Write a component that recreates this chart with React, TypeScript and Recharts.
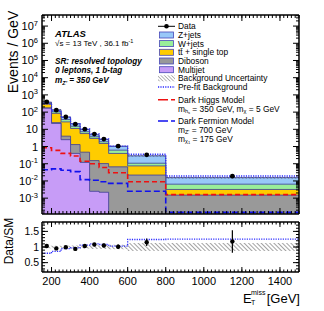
import React from 'react';
import { ComposedChart, Area, Line, Scatter, XAxis, YAxis, ErrorBar } from 'recharts';

const FONT = '"Liberation Sans", Arial, Helvetica, sans-serif';

// bin edges in GeV (last bin 800-1500)
const edges = [150, 200, 250, 300, 350, 400, 450, 500, 600, 800, 1500];

// events / GeV
const dataObs = [390, 130, 52, 20, 10.2, 5.3, 2.7, 1.05, 0.33, 0.019];
const zjets = [50, 30.5, 15.5, 6.2, 2.6, 1.2, 0.67, 0.42, 0.18, 0.009];
const wjets = [34, 21, 10, 3.9, 1.6, 0.75, 0.4, 0.22, 0.032, 0.0033];
const ttbar = [121, 60, 23, 9.9, 5.2, 2.8, 1.4, 0.33, 0.053, 0.0017];
const diboson = [4, 2.5, 1.5, 0.9, 0.35, 0.15, 0.1, 0.066, 0.022, 0.0015];
const multijet = [170, 22, 2.5, 0.4, 0.12, 0.0025, 0.0022, 0, 0, 0];
const bkgUnc = [0.04, 0.04, 0.04, 0.05, 0.05, 0.06, 0.06, 0.07, 0.12, 0.14];
const darkHiggs = [0.85, 0.6, 0.4, 0.28, 0.14, 0.1, 0.06, 0.03, 0.009, 0.0016];
const darkFermion = [0.045, 0.05, 0.042, 0.035, 0.012, 0.011, 0.009, 0.0072, 0.0025, 0.00015];

// ratio panel
const ratioObs = [1.03, 0.955, 0.99, 0.94, 1.03, 1.08, 1.05, 1.01, 1.15, 1.18];
const ratioErr = [0.02, 0.02, 0.03, 0.04, 0.05, 0.05, 0.06, 0.07, 0.12, 0.36];
const prefitRatio = [0.8, 0.86, 0.95, 0.97, 1.06, 1.1, 1.08, 1.03, 1.24, 1.25];
const ratioUnc = [0.04, 0.04, 0.04, 0.05, 0.05, 0.06, 0.06, 0.07, 0.13, 0.13];

// ticks
const xMajor = [200, 400, 600, 800, 1000, 1200, 1400];
const xMinor: number[] = [];
for (let v = 160; v <= 1500; v += 20) xMinor.push(v);
const yDomain = [1.2e-4, 4.4e7];
const yMajor = [1e-3, 1e-2, 1e-1, 1, 10, 100, 1e3, 1e4, 1e5, 1e6, 1e7];
const yMinor: number[] = [];
for (let e = -4; e <= 7; e++) for (let k = 2; k <= 9; k++) {
  const v = k * Math.pow(10, e);
  if (v > yDomain[0] && v < yDomain[1]) yMinor.push(v);
}
const rDomain = [0.2, 1.8];
const rMajor = [0.5, 1, 1.5];
const rMinor: number[] = [];
for (let i = 3; i <= 17; i++) rMinor.push(i / 10);

const nb = edges.length - 1;
const rows = edges.map((x, i) => {
  const b = Math.min(i, nb - 1);
  const m = multijet[b];
  const d = m + diboson[b];
  const t = d + ttbar[b];
  const w = t + wjets[b];
  const z = w + zjets[b];
  return {
    x,
    mj: Math.max(m, 1e-9),
    db: d,
    tt: t,
    wj: w,
    zj: z,
    unc: [z * (1 - bkgUnc[b]), z * (1 + bkgUnc[b])],
    pre: z * prefitRatio[b],
    dh: darkHiggs[b],
    df: darkFermion[b],
  };
});
const points = dataObs.map((v, i) => ({ x: (edges[i] + edges[i + 1]) / 2, v }));

const ratioRows = edges.map((x, i) => {
  const b = Math.min(i, nb - 1);
  return { x, pre: prefitRatio[b], band: [1 - ratioUnc[b], 1 + ratioUnc[b]] };
});
const ratioPoints = ratioObs.map((v, i) => ({ x: (edges[i] + edges[i + 1]) / 2, v, e: ratioErr[i] }));

const COL = {
  z: '#98c8f8',
  w: '#99ee99',
  tt: '#ffcc00',
  db: '#999999',
  mj: '#c79cf7',
  edge: '#3c3c96',
};

const blank = () => '';

// inward ticks on all four sides, ROOT style
const frameX = (id: string, domain: number[], major: number, minor: number) =>
  ([['b', 'bottom', xMajor, major], ['bm', 'bottom', xMinor, minor], ['t', 'top', xMajor, major], ['tm', 'top', xMinor, minor]] as any[]).map(
    ([suf, ori, t, s]) => (
      <XAxis key={id + suf} xAxisId={id + suf} type="number" dataKey="x" domain={domain} allowDataOverflow
        orientation={ori} mirror height={0.01} ticks={t} interval={0} tickSize={s} tickFormatter={blank}
        stroke="#000" />
    ));

const frameY = (id: string, domain: number[], scale: any, major: number[], minor: number[], ms: number, ns: number) =>
  ([['l', 'left', major, ms], ['lm', 'left', minor, ns], ['r', 'right', major, ms], ['rm', 'right', minor, ns]] as any[]).map(
    ([suf, ori, t, s]) => (
      <YAxis key={id + suf} yAxisId={id + suf} type="number" scale={scale} domain={domain} allowDataOverflow
        orientation={ori} mirror width={0.01} ticks={t} interval={0} tickSize={s} tickFormatter={blank}
        stroke="#000" />
    ));

const LogTickLabel = (props: any) => {
  const { x, y, payload } = props;
  const e = Math.round(Math.log10(payload.value));
  return (
    <text x={x - 4} y={y + 4} textAnchor="end" fontSize={11} fontFamily={FONT} fill="#000">
      {e === 0 ? '1' : e === 1 ? '10' : (<>10<tspan dy={-4.5} fontSize={7.5}>{e}</tspan></>)}
    </text>
  );
};

const RatioTickLabel = (props: any) => (
  <text x={props.x - 3} y={props.y + 3.8} textAnchor="end" fontSize={10.5} fontFamily={FONT} fill="#000">
    {props.payload.value}
  </text>
);

const XTickLabel = (props: any) => (
  <text x={props.x} y={props.y + 13} textAnchor="middle" fontSize={11} fontFamily={FONT} fill="#000">
    {props.payload.value}
  </text>
);

const Dot = (r: number) => (p: any) => <circle cx={p.cx} cy={p.cy} r={r} fill="#000" />;

const hatchPattern = (id: string, gap: number, color: string, w = 0.7) => (
  <pattern id={id} width={gap} height={gap} patternUnits="userSpaceOnUse" patternTransform="rotate(-45)">
    <line x1={0} y1={0} x2={0} y2={gap} stroke={color} strokeWidth={w} />
  </pattern>
);

function MainPanel() {
  return (
    <ComposedChart width={324} height={216} data={rows} margin={{ top: 15, right: 25, bottom: 2, left: 42 }}>
      <defs>{hatchPattern('hatchMain', 2.5, '#333')}</defs>
      {frameX('x', [150, 1500], 6, 3)}
      {frameY('y', yDomain, 'log', yMajor, yMinor, 6, 3)}
      <YAxis yAxisId="ylab" type="number" scale="log" domain={yDomain} allowDataOverflow orientation="left" mirror
        width={0.01} ticks={yMajor} interval={0} tickSize={0} tickMargin={0} tickLine={false} axisLine={false}
        tick={<LogTickLabel />} />
      <Area xAxisId="xb" yAxisId="yl" dataKey="zj" type="stepAfter" fill={COL.z} fillOpacity={1} stroke={COL.edge} strokeWidth={0.9} isAnimationActive={false} />
      <Area xAxisId="xb" yAxisId="yl" dataKey="wj" type="stepAfter" fill={COL.w} fillOpacity={1} stroke={COL.edge} strokeWidth={0.8} isAnimationActive={false} />
      <Area xAxisId="xb" yAxisId="yl" dataKey="tt" type="stepAfter" fill={COL.tt} fillOpacity={1} stroke={COL.edge} strokeWidth={0.8} isAnimationActive={false} />
      <Area xAxisId="xb" yAxisId="yl" dataKey="db" type="stepAfter" fill={COL.db} fillOpacity={1} stroke={COL.edge} strokeWidth={0.8} isAnimationActive={false} />
      <Area xAxisId="xb" yAxisId="yl" dataKey="mj" type="stepAfter" fill={COL.mj} fillOpacity={1} stroke={COL.edge} strokeWidth={0.8} isAnimationActive={false} />
      <Area xAxisId="xb" yAxisId="yl" dataKey="unc" type="stepAfter" fill="url(#hatchMain)" fillOpacity={1} stroke="none" isAnimationActive={false} />
      <Line xAxisId="xb" yAxisId="yl" dataKey="dh" type="stepAfter" stroke="#ee1111" strokeWidth={1.6} strokeDasharray="5 3" dot={false} isAnimationActive={false} />
      <Line xAxisId="xb" yAxisId="yl" dataKey="df" type="stepAfter" stroke="#1111ee" strokeWidth={1.6} strokeDasharray="6 3" dot={false} isAnimationActive={false} />
      <Line xAxisId="xb" yAxisId="yl" dataKey="pre" type="stepAfter" stroke="#2b2bff" strokeWidth={1.3} strokeDasharray="1.2 1.2" dot={false} isAnimationActive={false} />
      <Scatter xAxisId="xb" yAxisId="yl" data={points} dataKey="v" shape={Dot(2.4)} isAnimationActive={false} />
    </ComposedChart>
  );
}

function RatioPanel() {
  return (
    <ComposedChart width={324} height={95} data={ratioRows} margin={{ top: 6, right: 25, bottom: 39, left: 42 }}>
      <defs>{hatchPattern('hatchRatio', 3, '#333', 0.9)}</defs>
      {frameX('rx', [150, 1500], 5, 2.5)}
      {frameY('ry', rDomain, 'linear', rMajor, rMinor, 6, 3)}
      <XAxis xAxisId="rxlab" type="number" dataKey="x" domain={[150, 1500]} allowDataOverflow orientation="bottom" mirror
        height={0.01} ticks={xMajor} interval={0} tickSize={0} tickMargin={0} tickLine={false} axisLine={false}
        tick={<XTickLabel />} />
      <YAxis yAxisId="rylab" type="number" domain={rDomain} allowDataOverflow orientation="left" mirror
        width={0.01} ticks={rMajor} interval={0} tickSize={0} tickMargin={0} tickLine={false} axisLine={false}
        tick={<RatioTickLabel />} />
      <Area xAxisId="rxb" yAxisId="ryl" dataKey="band" type="stepAfter" fill="url(#hatchRatio)" fillOpacity={1} stroke="none" isAnimationActive={false} />
      <Line xAxisId="rxb" yAxisId="ryl" dataKey="pre" type="stepAfter" stroke="#2b2bff" strokeWidth={1.3} strokeDasharray="1.2 1.2" dot={false} isAnimationActive={false} />
      <Scatter xAxisId="rxb" yAxisId="ryl" data={ratioPoints} dataKey="v" shape={Dot(2.2)} isAnimationActive={false}>
        <ErrorBar dataKey="e" direction="y" width={0} stroke="#000" strokeWidth={1.2} />
      </Scatter>
    </ComposedChart>
  );
}

const LX = 158;
const LW = 17;
const TX = 178;

function Overlay() {
  const box = (y: number, fill: string) => (
    <rect x={LX + 1.5} y={y - 3} width={LW - 3} height={6} fill={fill} stroke="#4747b8" strokeWidth={0.8} />
  );
  const fs = 8.4;
  return (
    <svg width={324} height={311} style={{ position: 'absolute', left: 0, top: 0, pointerEvents: 'none' }} fontFamily={FONT}>
      <defs>{hatchPattern('hatchLeg', 2.5, '#333')}</defs>
      <text transform="translate(18,52) rotate(-90)" textAnchor="middle" fontSize={14}>Events / GeV</text>
      <text transform="translate(13,241) rotate(-90)" textAnchor="middle" fontSize={12}>Data/SM</text>

      <text x={243} y={303} fontSize={13}>E</text>
      <text x={251} y={295} fontSize={7}>miss</text>
      <text x={251} y={305} fontSize={7}>T</text>
      <text x={300} y={303} fontSize={13} textAnchor="end">[GeV]</text>

      <text x={55} y={36.5} fontSize={9.5} fontWeight="bold" fontStyle="italic">ATLAS</text>
      <text x={55} y={45.5} fontSize={8}>√s = 13 TeV , 36.1 fb<tspan dy={-3} fontSize={5.5}>-1</tspan></text>
      <g fontSize={8.2} fontWeight="bold" fontStyle="italic">
        <text x={55} y={63.5}>SR: resolved topology</text>
        <text x={55} y={72.5}>0 leptons, 1 b-tag</text>
        <text x={55} y={82.5}>m<tspan dy={2} fontSize={5.5}>Z'</tspan><tspan dy={-2}> = 350 GeV</tspan></text>
      </g>

      <line x1={LX} x2={LX + LW} y1={26.3} y2={26.3} stroke="#000" strokeWidth={1} />
      <circle cx={LX + LW / 2} cy={26.3} r={2.3} fill="#000" />
      {box(35, COL.z)}
      {box(43.6, COL.w)}
      {box(52.3, COL.tt)}
      {box(61, COL.db)}
      {box(69.7, COL.mj)}
      <rect x={LX} y={75.3} width={LW} height={6} fill="url(#hatchLeg)" />
      <line x1={LX} x2={LX + LW} y1={87} y2={87} stroke="#2b2bff" strokeWidth={1.3} strokeDasharray="1.2 1.2" />
      <line x1={LX} x2={LX + LW} y1={99.7} y2={99.7} stroke="#ee1111" strokeWidth={1.5} strokeDasharray="10 3" />
      <line x1={LX} x2={LX + LW} y1={121} y2={121} stroke="#1111ee" strokeWidth={1.5} strokeDasharray="10 3" />

      <g fontSize={fs}>
        <text x={TX} y={29.3}>Data</text>
        <text x={TX} y={38}>Z+jets</text>
        <text x={TX} y={46.6}>W+jets</text>
        <text x={TX} y={55.3}>t{'t\u0304'} + single top</text>
        <text x={TX} y={64}>Diboson</text>
        <text x={TX} y={72.7}>Multijet</text>
        <text x={TX} y={81.3}>Background Uncertainty</text>
        <text x={TX} y={90}>Pre-fit Background</text>
        <text x={TX} y={102.7}>Dark Higgs Model</text>
        <text x={TX} y={111.5}>m<tspan dy={1.8} fontSize={5.5}>h</tspan><tspan dy={1} fontSize={4}>s</tspan><tspan dy={-2.8}> = 350 GeV, m</tspan><tspan dy={1.8} fontSize={5.5}>χ</tspan><tspan dy={-1.8}> = 5 GeV</tspan></text>
        <text x={TX} y={124}>Dark Fermion Model</text>
        <text x={TX} y={132.8}>m<tspan dy={1.6} fontSize={5.5}>Z'</tspan><tspan dy={-1.6}> = 700 GeV</tspan></text>
        <text x={TX} y={141.8}>m<tspan dy={1.6} fontSize={5.5}>χ</tspan><tspan dy={0.8} fontSize={4}>1</tspan><tspan dy={-2.4}> = 175 GeV</tspan></text>
      </g>
    </svg>
  );
}

export default function App() {
  return (
    <div style={{ position: 'absolute', left: 0, top: 0, width: 324, height: 311, background: '#fff', fontFamily: FONT }}>
      <div style={{ position: 'absolute', left: 0, top: 0 }}>
        <MainPanel />
      </div>
      <div style={{ position: 'absolute', left: 0, top: 216 }}>
        <RatioPanel />
      </div>
      <Overlay />
    </div>
  );
}
